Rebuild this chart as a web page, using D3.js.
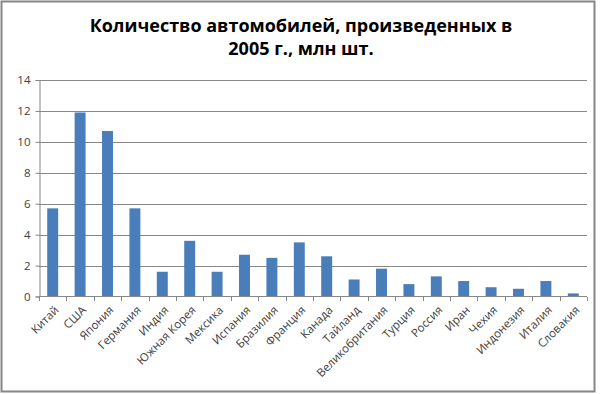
<!DOCTYPE html>
<html>
  <head>
    <meta charset="utf-8">
    <title>Автомобили 2005</title>
    <script src="https://d3js.org/d3.v7.min.js" charset="utf-8"></script>
    <style>
      body { margin: 0; background: #fff; }
      text { font-family: "Open Sans", "Noto Sans", sans-serif; }
    </style>
  </head>
  <body>
    <script>
      // data
      var countries = ["Китай", "США", "Япония", "Германия", "Индия", "Южная Корея", "Мексика",
        "Испания", "Бразилия", "Франция", "Канада", "Тайланд", "Великобритания", "Турция",
        "Россия", "Иран", "Чехия", "Индонезия", "Италия", "Словакия"];
      var cars = [5.7, 11.9, 10.7, 5.7, 1.6, 3.6, 1.6, 2.7, 2.5, 3.5, 2.6, 1.1, 1.8, 0.8,
        1.3, 1.0, 0.6, 0.5, 1.0, 0.2];
      var yTicks = [0, 2, 4, 6, 8, 10, 12, 14];
      var titleLines = ["Количество автомобилей, произведенных в", "2005 г., млн шт."];

      var width = 600;
      var height = 394;
      var barColor = "#4a7ebb";

      var svg = d3.select("body")
          .append("svg")
          .attr("width", width)
          .attr("height", height);

      // frame
      svg.append("rect")
        .attr("x", 1.5).attr("y", 1.5)
        .attr("width", 593).attr("height", 390)
        .attr("fill", "#fff")
        .attr("stroke", "#858585")
        .attr("stroke-width", 2);

      svg.selectAll(".title")
        .data(titleLines)
        .enter()
        .append("text")
        .attr("class", "title")
        .attr("x", 301)
        .attr("y", function(d, i) { return 32 + i * 23; })
        .attr("text-anchor", "middle")
        .attr("font-size", 18)
        .attr("font-weight", "bold")
        .attr("fill", "#000")
        .text(function(d) { return d; });

      var x = d3.scaleBand()
        .domain(countries)
        .range([39, 587])
        .paddingInner(0.6)
        .paddingOuter(0.3);

      var y = d3.scaleLinear()
        .domain([0, 14])
        .range([296.5, 80]);

      // gridlines
      svg.append("g")
        .selectAll("line")
        .data(yTicks.slice(1))
        .enter()
        .append("line")
        .attr("x1", 39).attr("x2", 587)
        .attr("y1", function(d) { return Math.round(y(d)) + 0.5; })
        .attr("y2", function(d) { return Math.round(y(d)) + 0.5; })
        .attr("stroke", "#878787");

      // y axis
      var yAxis = svg.append("g")
        .attr("transform", "translate(39.5,0)")
        .call(d3.axisLeft(y).tickValues(yTicks).tickSize(4).tickPadding(5));
      yAxis.select(".domain").attr("stroke", "#878787");
      yAxis.selectAll(".tick line").attr("stroke", "#878787");
      yAxis.selectAll("text")
        .attr("font-size", 11.5)
        .attr("fill", "#404040")
        .style("font-family", "'Open Sans', sans-serif");

      // bars
      svg.append("g")
        .selectAll("rect")
        .data(cars)
        .enter()
        .append("rect")
        .attr("x", function(d, i) { return x(countries[i]); })
        .attr("y", function(d) { return y(d); })
        .attr("width", x.bandwidth())
        .attr("height", function(d) { return y(0) - y(d); })
        .attr("fill", barColor);

      // x axis with ticks between categories
      var xAxisG = svg.append("g")
        .attr("transform", "translate(0,297)");
      xAxisG.append("line")
        .attr("x1", 39).attr("x2", 587)
        .attr("y1", -0.5).attr("y2", -0.5)
        .attr("stroke", "#878787");
      xAxisG.selectAll(".sep")
        .data(d3.range(countries.length + 1))
        .enter()
        .append("line")
        .attr("x1", function(i) { return Math.round(39 + i * (548 / countries.length)) + 0.5; })
        .attr("x2", function(i) { return Math.round(39 + i * (548 / countries.length)) + 0.5; })
        .attr("y1", 0).attr("y2", 4)
        .attr("stroke", "#878787");

      xAxisG.selectAll(".lbl")
        .data(countries)
        .enter()
        .append("text")
        .attr("transform", function(d) {
          return "translate(" + (x(d) + x.bandwidth() / 2 + 4) + ",11) rotate(-45)";
        })
        .attr("text-anchor", "end")
        .attr("dy", "0.35em")
        .attr("font-size", 11.5)
        .attr("fill", "#404040")
        .text(function(d) { return d; });
    </script>
  </body>
</html>
